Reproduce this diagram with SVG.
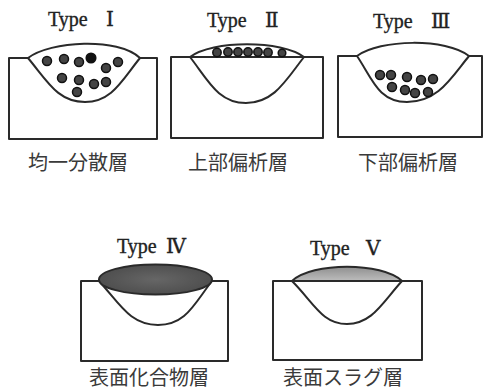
<svg xmlns="http://www.w3.org/2000/svg" width="485" height="390" viewBox="0 0 485 390">
  <defs>
    <style>
      .edge { fill: none; stroke: #2a2a2a; stroke-width: 2; stroke-linejoin: round; stroke-linecap: round; }
      .weld { fill: #fff; stroke: #2a2a2a; stroke-width: 2; stroke-linejoin: round; }
      .dot { fill: #444; stroke: #111; stroke-width: 1.5; }
      .dot-solid { fill: #111; }
      .title { font-family: "Liberation Serif", "DejaVu Serif", serif; font-size: 20px; fill: #222; stroke: #222; stroke-width: 0.35; }
      .label { font-family: "Noto Sans CJK JP", "Noto Sans CJK SC", sans-serif; font-size: 20px; fill: #3a3a3a; text-anchor: middle; }
    </style>
    <linearGradient id="slag" x1="0" y1="0" x2="0" y2="1">
      <stop offset="0" stop-color="#8f8f8f"/>
      <stop offset="1" stop-color="#bdbdbd"/>
    </linearGradient>
    <radialGradient id="compound" cx="0.5" cy="0.5" r="0.6">
      <stop offset="0" stop-color="#666"/>
      <stop offset="1" stop-color="#4a4a4a"/>
    </radialGradient>
  </defs>

  <!-- Type I: uniform dispersion -->
  <g id="type1">
    <text class="title" x="48" y="26">Type<tspan x="106">Ⅰ</tspan></text>
    <path class="edge" d="M28,58 H9 V139 H157 V58 H140"/>
    <path class="weld" d="M28,58 C50,41 118,37 140,58 C122,80 112,102 85,102 C58,102 48,82 28,58 Z"/>
    <circle class="dot" cx="47" cy="61" r="4.5"/>
    <circle class="dot" cx="64" cy="59" r="4.5"/>
    <circle class="dot" cx="79" cy="62" r="4.5"/>
    <circle class="dot dot-solid" cx="91" cy="58" r="4.8"/>
    <circle class="dot" cx="106" cy="68" r="4.5"/>
    <circle class="dot" cx="118" cy="62" r="4.5"/>
    <circle class="dot" cx="62" cy="78" r="4.5"/>
    <circle class="dot" cx="79" cy="80" r="4.5"/>
    <circle class="dot" cx="94" cy="84" r="4.5"/>
    <circle class="dot" cx="106" cy="82" r="4.5"/>
    <circle class="dot" cx="77" cy="92" r="4.5"/>
    <text class="label" x="78" y="170">均一分散層</text>
  </g>

  <!-- Type II: upper segregation -->
  <g id="type2">
    <text class="title" x="207" y="27">Type<tspan x="265">Ⅱ</tspan></text>
    <path class="edge" d="M171,57 H323 V138 H171 Z"/>
    <path class="weld" d="M190,57 C212,40 282,40 304,57 C286,80 274,103 246,103 C218,103 208,80 190,57 Z"/>
    <path class="edge" d="M190,57 H304"/>
    <circle class="dot" cx="217" cy="52.5" r="4.2"/>
    <circle class="dot" cx="228" cy="52" r="4.2"/>
    <circle class="dot" cx="238" cy="52" r="4.2"/>
    <circle class="dot" cx="248" cy="52" r="4.2"/>
    <circle class="dot" cx="258" cy="52" r="4.2"/>
    <circle class="dot" cx="268" cy="52.5" r="4.2"/>
    <circle class="dot" cx="282" cy="53" r="3.8"/>
    <text class="label" x="238" y="170">上部偏析層</text>
  </g>

  <!-- Type III: lower segregation -->
  <g id="type3">
    <text class="title" x="373" y="28">Type<tspan x="431">Ⅲ</tspan></text>
    <path class="edge" d="M357,56 H338 V137 H482 V56 H469"/>
    <path class="weld" d="M357,56 C380,39 446,38 469,56 C451,78 438,102 407,102 C378,102 372,78 357,56 Z"/>
    <circle class="dot" cx="380" cy="75" r="4.5"/>
    <circle class="dot" cx="391" cy="75" r="4.5"/>
    <circle class="dot" cx="407" cy="77" r="4.5"/>
    <circle class="dot" cx="421" cy="80" r="4.5"/>
    <circle class="dot" cx="433" cy="79" r="4.5"/>
    <circle class="dot" cx="392" cy="87" r="4.5"/>
    <circle class="dot" cx="405" cy="90" r="4.5"/>
    <circle class="dot" cx="415" cy="93" r="4.5"/>
    <circle class="dot" cx="428" cy="92" r="4.5"/>
    <text class="label" x="408" y="170">下部偏析層</text>
  </g>

  <!-- Type IV: surface compound layer -->
  <g id="type4">
    <text class="title" x="117" y="253">Type<tspan x="166">Ⅳ</tspan></text>
    <path class="edge" d="M99,281 H81 V361 H228 V281 H212"/>
    <path class="weld" d="M99,281 C120,304 130,325 158,325 C186,325 194,304 212,281 Z"/>
    <ellipse cx="155.5" cy="279.5" rx="56.5" ry="15" fill="url(#compound)" stroke="#2a2a2a" stroke-width="2"/>
    <text class="label" x="149" y="385">表面化合物層</text>
  </g>

  <!-- Type V: surface slag layer -->
  <g id="type5">
    <text class="title" x="310" y="255">Type<tspan x="366">Ⅴ</tspan></text>
    <path class="edge" d="M273,281 H422 V360 H273 Z"/>
    <path class="weld" d="M292,281 C314,303 322,324 347,324 C372,324 382,303 402,281 Z"/>
    <path d="M292,281 C312,262 382,262 402,281 Z" fill="url(#slag)" stroke="#2a2a2a" stroke-width="2" stroke-linejoin="round"/>
    <text class="label" x="343" y="385">表面スラグ層</text>
  </g>
</svg>
